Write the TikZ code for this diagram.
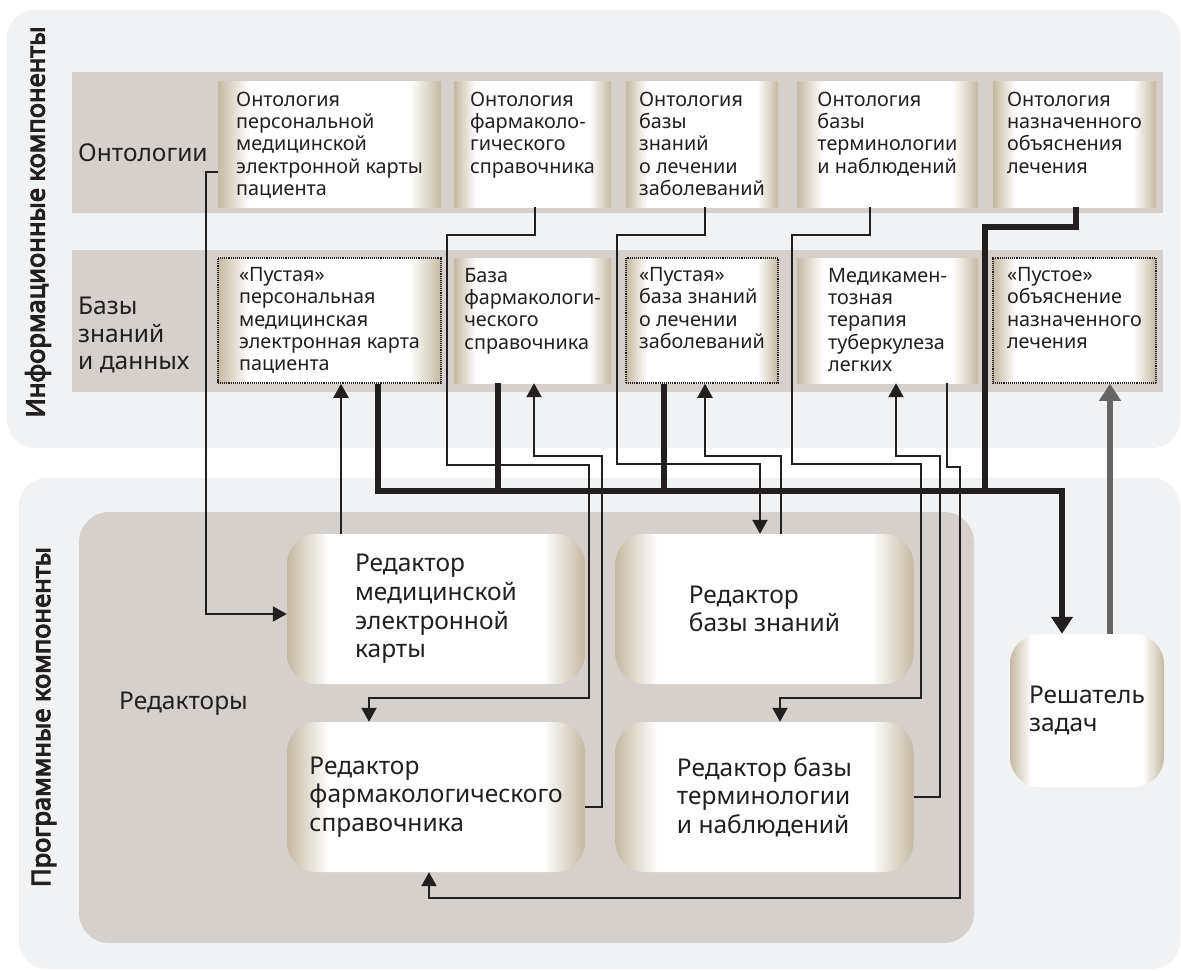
\documentclass[tikz,border=0pt]{standalone}
\usepackage{fontspec}
\setmainfont{Noto Sans}
\newfontfamily\titlefont{Noto Sans}[FakeBold=4]
\usetikzlibrary{arrows.meta,positioning}

\definecolor{panelbg}{HTML}{F1F2F4}
\definecolor{bandbg}{HTML}{D5D0CB}
\definecolor{boxedge}{HTML}{C5B9A3}
\definecolor{linec}{HTML}{231F20}
\definecolor{solvec}{HTML}{666666}

\pgfdeclarehorizontalshading{boxshade}{100bp}{color(0bp)=(boxedge); color(25bp)=(boxedge); color(32bp)=(white); color(68bp)=(white); color(75bp)=(boxedge); color(100bp)=(boxedge)}

\begin{document}
\begin{tikzpicture}[
    x=1pt, y=-1pt,
    every node/.style={font=\fontsize{19.8}{22.3}\selectfont, text=linec},
    panel/.style={fill=panelbg, rounded corners=28pt},
    ontbox/.style={shading=boxshade, minimum height=125pt, inner sep=0pt},
    emptybox/.style={ontbox, draw=linec, line width=1.5pt, dash pattern=on 1pt off 0.9pt},
    boxtxt/.style={align=left, inner sep=0pt},
    bigtxt/.style={font=\fontsize{24.5}{28.6}\selectfont},
    editor/.style={shading=boxshade, rounded corners=30pt, minimum width=298pt, minimum height=150pt, align=left, bigtxt},
    sidetitle/.style={rotate=90, font=\titlefont\fontsize{25.5}{28}\selectfont},
    conn/.style={draw=linec, line width=2.2pt, -{Triangle[length=14pt, width=15pt]}},
    bus/.style={draw=linec, line width=6pt},
    busarrow/.style={bus, -{Triangle[length=17pt, width=21pt]}},
  ]
    \useasboundingbox (0,0) rectangle (1181,971);
    \fill[white] (0,0) rectangle (1181,971);

    % -------- backgrounds --------
    \fill[panel] (7,10) rectangle (1180,448);
    \fill[panel] (19,478) rectangle (1180,969);
    \fill[bandbg] (72,72) rectangle (1163,213);
    \fill[bandbg] (72,250) rectangle (1163,392);
    \fill[bandbg, rounded corners=30pt] (79,512) rectangle (974,943);

    \node[sidetitle] (infotitle) at (38,222) {Информационные компоненты};
    \node[sidetitle] (progtitle) at (44,717) {Программные компоненты};

    \node[bigtxt, anchor=west, inner sep=0pt] (ontlabel) at (78,153) {Онтологии};
    \node[anchor=west, align=left, inner sep=0pt, font=\fontsize{24.5}{27.5}\selectfont] (kblabel) at (78,335) {Базы\\знаний\\и данных};
    \node[bigtxt, anchor=west, inner sep=0pt] (edlabel) at (119,704) {Редакторы};

    % -------- ontologies --------
    \foreach \nm/\cx/\w/\txt in {
        o1/329.5/223/{Онтология\\персональной\\медицинской\\электронной карты\\пациента},
        o2/532.5/157/{Онтология\\фармаколо-\\гического\\справочника},
        o3/702/152/{Онтология\\базы\\знаний\\о лечении\\заболеваний},
        o4/887.5/181/{Онтология\\базы\\терминологии\\и наблюдений},
        o5/1074.5/163/{Онтология\\назначенного\\объяснения\\лечения}} {
      \node[ontbox, minimum width=\w pt] (\nm) at (\cx,144.5) {};
      \node[boxtxt, below=10pt of \nm.north] (\nm-txt) {\txt};
    }

    % -------- knowledge and data bases --------
    \foreach \nm/\st/\cx/\w/\txt in {
        kb1/emptybox/329.5/223/{«Пустая»\\персональная\\медицинская\\электронная карта\\пациента},
        kb2/ontbox/532.5/157/{База\\фармакологи-\\ческого\\справочника},
        kb3/emptybox/702/152/{«Пустая»\\база знаний\\о лечении\\заболеваний},
        kb4/ontbox/887.5/181/{Медикамен-\\тозная\\терапия\\туберкулеза\\легких},
        kb5/emptybox/1074.5/163/{«Пустое»\\объяснение\\назначенного\\лечения}} {
      \node[\st, minimum width=\w pt] (\nm) at (\cx,320.5) {};
      \node[boxtxt, below=10pt of \nm.north] (\nm-txt) {\txt};
    }

    % -------- editors and solver --------
    \node[editor] (e1) at (436,609) {Редактор\\медицинской\\электронной\\карты};
    \node[editor] (e2) at (764.5,609) {Редактор\\базы знаний};
    \node[editor] (e3) at (436,797) {Редактор\\фармакологического\\справочника};
    \node[editor] (e4) at (764.5,797) {Редактор базы\\терминологии\\и наблюдений};
    \node[editor, minimum width=154pt, minimum height=153pt] (sol) at (1087,710.5) {Решатель\\задач};

    % -------- thin connectors --------
    \draw[conn] ([yshift=-27.5pt]o1.west) -- ++(-12,0) |- ([yshift=-5pt]e1.west);
    \draw[conn] ([xshift=2.5pt]o2.south) |- (447,235) |- (589,465) |- (369,698) -- ([xshift=-67pt]e3.north);
    \draw[conn] ([yshift=-10pt]e3.east) -| (602,456) -| ([xshift=1.5pt]kb2.south);
    \draw[conn] ([xshift=3pt]o3.south) |- (617,235) |- (760,464) -- ([xshift=-4.5pt]e2.north);
    \draw[conn] ([xshift=16.5pt]e2.north) -- ++(0,-78) -| ([xshift=3pt]kb3.south);
    \draw[conn] ([xshift=-17.5pt]o4.south) |- (792,235) |- (921,464) |- (780,698) -- ([xshift=15.5pt]e4.north);
    \draw[conn] (e4.east) -| (940,456) -| ([xshift=8.5pt]kb4.south);
    \draw[conn] ([xshift=59.5pt]kb4.south) |- (960,467) |- (429,898) -- ([xshift=-7pt]e3.south);
    \draw[conn] ([xshift=-95pt]e1.north) -- ([xshift=11.5pt]kb1.south);

    % -------- thick bus to the solver --------
    \draw[busarrow] ([xshift=48.5pt]kb1.south) |- (1062,491) -- ([xshift=-25pt]sol.north);
    \draw[bus] ([xshift=-34.5pt]kb2.south) -- (498,491);
    \draw[bus] ([xshift=-38pt]kb3.south) -- (664,491);
    \draw[bus] ([xshift=1.5pt]o5.south) |- (985,227) -- (985,491);
    \draw[busarrow, draw=solvec, line width=5.5pt] ([xshift=23pt]sol.north) -- ([xshift=35.5pt]kb5.south);
  \end{tikzpicture}
\end{document}
